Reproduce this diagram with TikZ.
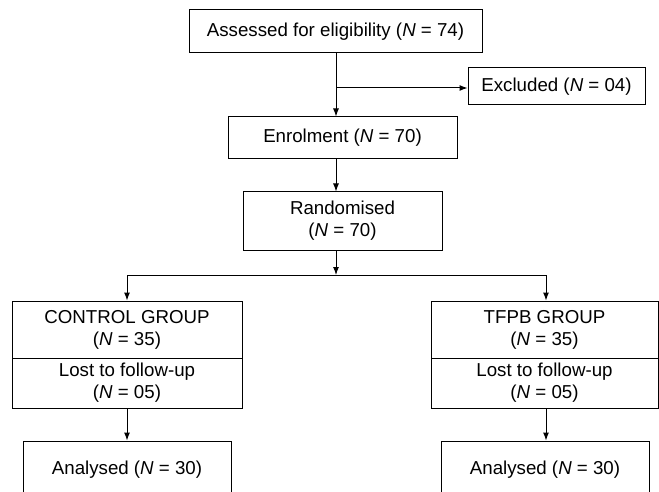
\documentclass[tikz,border=0pt]{standalone}
\usepackage{fontspec}
\setmainfont{Liberation Sans}
\usetikzlibrary{arrows.meta}

\tikzset{
  box/.style={draw, line width=1pt, align=center, inner sep=0pt,
    font=\fontsize{18.7}{22}\selectfont},
  >={Latex[length=8pt,width=6pt]}
}

\begin{document}
\begin{tikzpicture}[x=1pt, y=-1pt, line width=1pt]
\clip (0,0) rectangle (659,492);

\node (assess) at (335.5,31.5) [box, minimum width=293pt, minimum height=43pt] {Assessed for eligibility (\textit{N} = 74)};
\node (excl) at (556.5,86.5) [box, minimum width=177pt, minimum height=37pt] {Excluded (\textit{N} = 04)};
\node (enrol) at (342.5,138) [box, minimum width=229pt, minimum height=42pt] {Enrolment (\textit{N} = 70)};
\node (rand) at (342.5,221) [box, minimum width=199pt, minimum height=58pt] {Randomised\\(\textit{N} = 70)};

\node (ctrl) at (127,329.5) [box, minimum width=230pt, minimum height=57pt] {CONTROL GROUP\\(\textit{N} = 35)};
\node (ctrllost) at (127,383) [box, minimum width=230pt, minimum height=50pt] {Lost to follow-up\\(\textit{N} = 05)};
\node (ctrlan) at (127,470) [box, minimum width=208pt, minimum height=58pt] {Analysed (\textit{N} = 30)};

\node (tfpb) at (544.5,329.5) [box, minimum width=227pt, minimum height=57pt] {TFPB GROUP\\(\textit{N} = 35)};
\node (tfpblost) at (544.5,383) [box, minimum width=227pt, minimum height=50pt] {Lost to follow-up\\(\textit{N} = 05)};
\node (tfpban) at (545,470) [box, minimum width=208pt, minimum height=58pt] {Analysed (\textit{N} = 30)};

\coordinate (fork) at (336,88);
\coordinate (split) at (336,275);
\coordinate (left) at (127,275);
\coordinate (right) at (546,275);

\draw [->] (assess.south -| fork) -- (enrol.north -| fork);
\draw [->] (fork) -- (excl.west |- fork);
\draw [->] (enrol.south -| fork) -- (rand.north -| fork);
\draw [->] (rand.south -| split) -- (split);
\draw (left) -- (right);
\draw [->] (left) -- (ctrl.north);
\draw [->] (right) -- (tfpb.north -| right);
\draw [->] (ctrllost.south) -- (ctrlan.north);
\draw [->] (tfpblost.south -| right) -- (tfpban.north -| right);
\end{tikzpicture}
\end{document}
